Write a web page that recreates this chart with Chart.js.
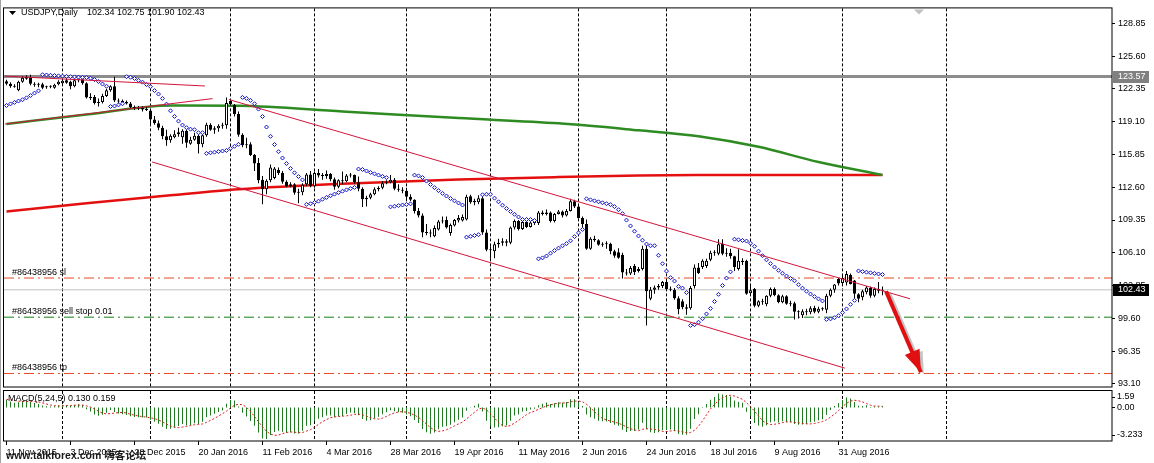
<!DOCTYPE html>
<html>
<head>
<meta charset="utf-8">
<script src="https://cdn.jsdelivr.net/npm/chart.js@4.4.0/dist/chart.umd.min.js"></script>
<style>
  html, body { margin: 0; padding: 0; background: #fff; }
  #wrap { position: relative; width: 1154px; height: 463px; overflow: hidden; }
  #wrap canvas { position: absolute; left: 0; top: 0; }
</style>
</head>
<body>
<div id="wrap">
  <canvas id="main" width="1154" height="463"></canvas>
  <canvas id="macd" width="1154" height="463"></canvas>
</div>
<script>
// USDJPY daily, 11 Nov 2015 .. 15 Sep 2016, candles + PSAR + MACD(5,24,5)

const FONT = '"Liberation Sans", Arial, sans-serif';

// time axis: bar index -> label every 16 bars, month grid lines
const dateLabels = ["11 Nov 2015", "3 Dec 2015", "28 Dec 2015", "20 Jan 2016", "11 Feb 2016",
                    "4 Mar 2016", "28 Mar 2016", "19 Apr 2016", "11 May 2016", "2 Jun 2016",
                    "24 Jun 2016", "18 Jul 2016", "9 Aug 2016", "31 Aug 2016"];
const labelIdx   = [0, 16, 32, 48, 64, 80, 96, 112, 128, 144, 160, 176, 192, 208];
const gridIdx    = [14, 36, 56, 77, 100, 121, 143, 165, 186, 209, 235];
const shiftIdx   = 228;

const opens = [
  123.10,122.85,122.60,122.20,123.05,123.35,123.50,122.85,122.75,122.80,
  122.50,122.55,122.45,122.80,122.90,123.20,123.05,122.60,123.20,123.30,
  122.90,121.45,121.55,120.95,121.05,121.65,122.20,122.60,121.20,121.10,
  121.05,120.90,120.55,120.40,120.45,120.30,120.20,119.30,118.95,118.50,
  117.65,117.25,117.55,117.85,117.55,118.20,116.90,117.30,117.70,116.85,
  117.75,118.80,118.30,118.45,118.70,118.75,121.15,120.75,119.85,117.80,
  116.75,116.85,115.80,115.00,113.35,112.40,113.30,113.50,114.30,114.00,
  113.15,112.70,112.90,112.05,112.10,112.90,113.85,112.70,114.00,113.75,
  113.70,113.90,113.40,112.65,113.30,113.20,113.75,113.80,113.10,112.45,
  111.40,111.55,111.90,112.40,112.55,113.00,113.10,113.35,112.45,112.35,
  112.25,111.65,111.35,110.25,109.80,108.10,108.05,107.75,108.40,109.20,
  109.35,108.05,108.80,109.30,109.30,109.40,111.70,111.10,111.10,111.50,
  108.10,106.40,106.25,106.95,107.10,107.25,107.10,108.60,109.25,108.45,
  109.15,108.65,109.10,109.05,110.10,109.95,110.10,109.25,109.95,110.20,
  109.80,110.25,111.20,110.70,109.55,108.95,106.50,107.50,107.35,106.90,
  107.00,107.00,106.25,106.15,105.90,104.15,104.05,104.80,104.30,104.50,
  106.50,101.55,102.45,102.65,102.80,103.20,102.50,102.45,101.60,101.30,
  100.70,100.60,102.80,104.65,104.70,104.80,105.40,106.10,106.00,107.00,
  106.00,106.10,105.75,104.50,105.30,105.30,102.10,102.50,100.85,101.30,
  101.00,101.85,102.50,101.90,101.20,101.80,101.05,101.10,100.25,99.90,
  100.30,100.20,100.65,100.25,100.55,100.45,101.85,102.45,103.50,103.10,
  103.15,103.90,103.35,102.00,101.70,102.20,102.60,101.85,102.50,102.34
];
const highs = [
  123.25,123.00,122.80,123.15,123.60,123.70,123.75,123.00,122.95,122.95,
  122.65,122.70,122.85,123.20,123.25,123.50,123.15,123.35,123.45,123.40,
  123.00,121.90,121.75,121.40,121.85,122.35,122.70,123.55,121.40,121.30,
  121.20,121.05,120.70,120.65,120.65,120.55,120.35,119.65,119.20,118.70,
  118.30,117.85,118.25,118.50,118.35,118.30,117.60,118.00,117.80,117.80,
  119.00,118.95,118.65,118.85,119.00,121.50,121.30,120.85,120.10,117.95,
  117.50,117.05,115.90,115.50,113.70,113.40,114.85,114.60,114.55,114.20,
  113.30,113.10,113.00,112.45,113.00,114.00,114.20,114.15,114.40,114.00,
  114.25,114.00,113.55,113.40,114.15,113.90,114.00,113.85,113.65,112.60,
  111.75,112.05,112.60,112.70,113.20,113.30,113.80,113.50,112.90,112.60,
  112.55,111.90,111.40,110.55,110.00,108.95,108.40,108.80,109.35,109.70,
  109.70,109.00,109.45,109.85,109.90,111.85,111.85,111.45,111.80,111.90,
  108.40,106.75,107.20,107.50,107.55,107.45,108.70,109.40,109.35,109.40,
  109.30,109.25,109.25,110.25,110.30,110.40,110.20,110.05,110.35,110.30,
  110.45,111.45,111.35,110.85,109.70,109.40,107.65,107.80,107.45,107.15,
  107.25,107.10,106.40,106.55,106.10,104.50,104.80,105.00,104.70,106.80,
  106.80,102.70,102.85,103.00,103.30,103.30,102.75,102.60,101.80,101.50,
  101.00,102.80,104.95,105.10,105.45,105.50,106.30,106.35,107.45,107.45,
  106.55,106.50,105.80,106.45,105.55,105.40,102.85,102.60,101.40,101.55,
  101.90,102.65,102.65,102.00,101.95,101.90,101.35,101.25,100.40,100.50,
  100.55,100.80,100.85,100.75,100.70,102.05,102.55,103.00,103.60,103.85,
  104.30,104.05,103.40,102.10,102.45,102.80,102.75,102.65,103.20,102.75
];
const lows = [
  122.70,122.45,122.45,122.10,122.95,123.25,122.70,122.55,122.50,122.30,
  122.35,122.40,122.35,122.70,122.80,122.85,122.30,122.50,123.00,122.75,
  121.40,121.25,120.80,120.60,120.90,121.55,122.05,121.05,120.90,120.95,
  120.80,120.45,120.25,120.25,120.10,120.15,118.70,118.80,118.25,117.35,
  116.70,117.00,117.45,117.60,116.90,116.50,116.80,117.20,115.95,116.55,
  117.60,118.20,117.90,118.10,118.40,118.40,120.70,119.60,117.60,116.55,
  116.45,115.70,114.20,113.00,110.90,111.90,113.10,113.40,113.80,112.95,
  112.60,112.60,111.85,111.00,111.80,112.70,112.60,112.55,113.55,113.35,
  113.45,113.20,112.35,112.50,112.90,113.10,113.55,112.95,112.20,110.65,
  110.70,111.40,111.80,112.20,112.40,112.90,113.00,112.30,112.15,112.00,
  111.35,111.20,110.00,109.60,107.65,107.85,107.65,107.65,108.30,109.00,
  108.50,107.80,108.70,109.10,109.20,109.30,110.95,110.80,110.90,107.90,
  106.25,105.50,105.55,106.60,106.80,106.75,106.95,108.40,108.30,108.35,
  108.55,108.60,108.85,108.85,109.80,109.80,109.10,109.10,109.90,109.60,
  109.70,110.20,110.55,109.50,108.50,106.40,106.40,107.20,106.80,106.70,
  106.50,105.95,105.60,105.50,103.55,103.85,103.90,103.90,104.15,104.35,
  98.90,101.40,102.05,102.45,102.60,102.35,102.30,101.45,100.00,100.50,
  99.95,100.45,102.55,104.00,104.50,104.60,105.25,105.80,105.85,105.85,
  105.70,105.50,104.30,104.35,104.90,101.95,101.90,100.70,100.70,100.95,
  100.80,101.70,101.80,101.10,101.10,100.95,100.80,99.50,99.60,99.65,
  99.90,100.00,100.10,100.10,100.35,100.10,101.70,102.15,102.85,103.00,
  102.85,102.95,101.45,101.20,101.40,102.00,101.65,101.70,102.10,101.90
];
const closes = [
  122.85,122.60,122.55,123.05,123.45,123.55,122.85,122.75,122.80,122.45,
  122.55,122.60,122.75,123.05,123.15,122.95,122.60,123.20,123.30,122.90,
  121.50,121.55,120.95,121.05,121.65,122.20,122.60,121.20,121.10,121.05,
  120.90,120.55,120.40,120.45,120.30,120.25,119.30,118.95,118.50,117.65,
  117.25,117.70,117.85,118.05,118.20,117.00,117.30,117.70,116.85,117.75,
  118.80,118.30,118.45,118.70,118.80,120.95,120.85,119.85,117.80,116.75,
  116.85,115.80,114.95,113.30,112.40,113.25,114.55,114.45,114.00,113.15,
  112.70,112.90,112.05,112.10,112.85,113.85,112.70,114.00,113.75,113.70,
  113.90,113.40,112.65,113.30,113.20,113.75,113.80,113.10,112.45,111.40,
  111.55,111.90,112.40,112.55,113.00,113.10,113.35,112.45,112.35,112.25,
  111.65,111.35,110.25,109.80,108.10,108.05,108.00,108.55,109.20,109.25,
  108.60,108.85,109.35,109.55,109.65,111.65,111.10,111.25,111.50,108.10,
  106.40,106.35,106.95,107.10,107.25,107.10,108.60,109.25,108.45,109.15,
  108.65,109.10,109.05,110.10,109.95,110.10,109.25,109.95,110.20,109.80,
  110.25,111.20,110.70,109.55,108.95,106.50,107.50,107.35,106.90,107.00,
  106.95,106.25,105.80,105.60,104.15,104.05,104.60,104.20,104.50,106.50,
  102.30,102.45,102.65,102.80,103.20,102.50,102.45,101.60,100.50,100.70,
  100.55,102.60,104.65,104.10,105.30,105.30,106.10,106.20,106.95,106.00,
  106.10,105.75,104.70,105.30,105.20,102.05,102.40,100.85,101.30,101.20,
  101.85,102.50,101.90,101.20,101.80,101.05,101.00,100.25,100.20,100.30,
  100.20,100.60,100.25,100.55,100.50,101.85,102.45,102.95,103.05,103.60,
  104.00,103.00,102.05,101.55,102.30,102.65,101.85,102.50,102.35,102.43
];

// long moving averages, sampled at bar indices
const maIdx   = [0, 20, 41, 58, 84, 113, 138, 158, 173, 188, 203, 219];
const maGreen = [118.86, 119.80, 120.70, 120.67, 120.10, 119.45, 118.93, 118.24, 117.65, 116.60, 115.10, 113.82];
const maRed   = [110.20, 111.00, 111.80, 112.40, 112.95, 113.36, 113.60, 113.75, 113.80, 113.82, 113.82, 113.82];

// hand-drawn objects: [barIndex, price] anchors
const trendTopLeft  = [[-0.4, 123.61], [49.6, 122.63]];
const trendRising   = [[-0.4, 118.86], [51.5, 121.38]];
const channelTop    = [[55.6, 121.29], [225.9, 101.54]];
const channelBottom = [[36.4, 115.10], [209.6, 94.67]];
const arrowPts      = [[219.9, 102.28], [228.6, 94.27]];

// horizontal levels
const levelMark = 123.57;
const levelBid  = 102.43;
const levelSl   = 103.60;
const levelStop = 99.72;
const levelTp   = 94.14;
const orderTag  = "#86438956";

const priceTicks = [93.10, 96.35, 99.60, 102.85, 106.10, 109.35, 112.60, 115.85, 119.10, 122.35, 125.60, 128.85];
const titleText  = "USDJPY,Daily";
const titleOHLC  = "102.34 102.75 101.90 102.43";
const macdText   = "MACD(5,24,5) 0.130 0.159";
const macdMin = -3.233, macdMax = 1.59;

// indicator state before the first visible bar
const sarSeed  = { up: true, sar: 120.70, ep: 123.30, af: 0.06 };
const macdSeed = { fast: 122.95, slow: 122.15 };

const xMin = -0.625, xMax = 276.375;

// ---- indicators computed from the candles ----
function parabolicSar(hi, lo, step, maxStep, seed) {
  const out = [];
  let { up, sar, ep, af } = seed;
  for (let i = 0; i < hi.length; i++) {
    if (i > 0) {
      sar = sar + af * (ep - sar);
      if (up) {
        sar = Math.min(sar, lo[i - 1], lo[Math.max(0, i - 2)]);
        if (lo[i] < sar) { up = false; sar = ep; ep = lo[i]; af = step; }
        else if (hi[i] > ep) { ep = hi[i]; af = Math.min(af + step, maxStep); }
      } else {
        sar = Math.max(sar, hi[i - 1], hi[Math.max(0, i - 2)]);
        if (hi[i] > sar) { up = true; sar = ep; ep = hi[i]; af = step; }
        else if (lo[i] < ep) { ep = lo[i]; af = Math.min(af + step, maxStep); }
      }
    }
    out.push(sar);
  }
  return out;
}

function macdSeries(cl, fast, slow, sig, seed) {
  const kf = 2 / (fast + 1), ks = 2 / (slow + 1);
  let ef = seed.fast, es = seed.slow;
  const main = cl.map(c => { ef += kf * (c - ef); es += ks * (c - es); return ef - es; });
  const pad = seed.fast - seed.slow;
  const signal = main.map((_, i) => {
    let s = 0;
    for (let k = i - sig + 1; k <= i; k++) s += k >= 0 ? main[k] : pad;
    return s / sig;
  });
  return { main, signal };
}

const sar  = parabolicSar(highs, lows, 0.02, 0.2, sarSeed);
const macd = macdSeries(closes, 5, 24, 5, macdSeed);

const pts = arr => arr.map(p => ({ x: p[0], y: p[1] }));
const hline = v => [{ x: xMin, y: v }, { x: xMax, y: v }];
const isUp = i => closes[i] >= opens[i];

function drawVGrid(chart) {
  const { ctx, chartArea: a, scales: { x } } = chart;
  ctx.save();
  ctx.strokeStyle = "#000";
  ctx.lineWidth = 1;
  ctx.setLineDash([3, 2]);
  gridIdx.forEach(i => {
    const px = Math.round(x.getPixelForValue(i) - 0.5) + 0.5;
    ctx.beginPath();
    ctx.moveTo(px, a.top);
    ctx.lineTo(px, a.bottom);
    ctx.stroke();
  });
  ctx.restore();
}

function drawFrame(ctx, a) {
  ctx.save();
  ctx.strokeStyle = "#000";
  ctx.lineWidth = 1;
  ctx.strokeRect(a.left - 0.5, a.top - 0.5, a.right - a.left + 0.5, a.bottom - a.top + 0.5);
  ctx.restore();
}

// arrow geometry in pixels, taken from the scales
function arrowPixels(chart) {
  const { x, y } = chart.scales;
  const x0 = x.getPixelForValue(arrowPts[0][0]), y0 = y.getPixelForValue(arrowPts[0][1]);
  const x1 = x.getPixelForValue(arrowPts[1][0]), y1 = y.getPixelForValue(arrowPts[1][1]);
  const len = Math.hypot(x1 - x0, y1 - y0);
  return { x0, y0, x1, y1, dx: (x1 - x0) / len, dy: (y1 - y0) / len };
}

function arrowHead(ctx, p, ox, oy, color) {
  const L = 22, W = 8;
  const tx = p.x1 + ox, ty = p.y1 + oy;
  ctx.fillStyle = color;
  ctx.beginPath();
  ctx.moveTo(tx, ty);
  ctx.lineTo(tx - p.dx * L - p.dy * W, ty - p.dy * L + p.dx * W);
  ctx.lineTo(tx - p.dx * L + p.dy * W, ty - p.dy * L - p.dx * W);
  ctx.closePath();
  ctx.fill();
}

const mainDecor = {
  id: "mainDecor",
  beforeDatasetsDraw(chart) {
    drawVGrid(chart);
    // soft shadow under the arrow
    const { ctx } = chart;
    const p = arrowPixels(chart);
    ctx.save();
    ctx.strokeStyle = "#c4c4c4";
    ctx.lineWidth = 4;
    ctx.beginPath();
    ctx.moveTo(p.x0 + 3, p.y0 + 2);
    ctx.lineTo(p.x1 + 3 - p.dx * 10, p.y1 + 2 - p.dy * 10);
    ctx.stroke();
    arrowHead(ctx, p, 3, 2, "#c4c4c4");
    ctx.restore();
  },
  afterDatasetsDraw(chart) {
    const { ctx } = chart;
    ctx.save();
    arrowHead(ctx, arrowPixels(chart), 0, 0, "#e01010");
    ctx.restore();
  },
  afterDraw(chart) {
    const { ctx, chartArea: a, scales: { x, y } } = chart;
    drawFrame(ctx, a);
    ctx.save();
    // window edge
    ctx.fillStyle = "#a0a0a0";
    ctx.fillRect(0, 0, 1, 463);
    // title
    ctx.fillStyle = "#000";
    ctx.font = "9px " + FONT;
    ctx.textBaseline = "middle";
    ctx.textAlign = "left";
    ctx.beginPath();
    ctx.moveTo(9, 11); ctx.lineTo(16, 11); ctx.lineTo(12.5, 15); ctx.closePath();
    ctx.fill();
    ctx.fillText(titleText, 21, 13);
    ctx.fillText(titleOHLC, 87, 13);
    // order labels above their lines
    ctx.textBaseline = "bottom";
    ctx.fillText(orderTag + " sl", 12, y.getPixelForValue(levelSl) - 1);
    ctx.fillText(orderTag + " sell stop 0.01", 12, y.getPixelForValue(levelStop) - 1);
    ctx.fillText(orderTag + " tp", 12, y.getPixelForValue(levelTp) - 1);
    // price boxes on the axis
    [[levelMark, "#808080"], [levelBid, "#000"]].forEach(([v, bg]) => {
      const py = Math.round(y.getPixelForValue(v));
      ctx.fillStyle = bg;
      ctx.fillRect(a.right + 1, py - 6, 36, 12);
      ctx.fillStyle = "#fff";
      ctx.textBaseline = "middle";
      ctx.fillText(v.toFixed(2), a.right + 6, py);
    });
    // chart shift marker
    const sx = Math.round(x.getPixelForValue(shiftIdx));
    ctx.fillStyle = "#c0c0c0";
    ctx.beginPath();
    ctx.moveTo(sx - 5, a.top + 1); ctx.lineTo(sx + 5, a.top + 1); ctx.lineTo(sx, a.top + 6); ctx.closePath();
    ctx.fill();
    ctx.restore();
  }
};

const macdDecor = {
  id: "macdDecor",
  beforeDatasetsDraw(chart) { drawVGrid(chart); },
  afterDraw(chart) {
    const { ctx, chartArea: a, scales: { y } } = chart;
    drawFrame(ctx, a);
    ctx.save();
    ctx.fillStyle = "#000";
    ctx.font = "9px " + FONT;
    ctx.textAlign = "left";
    ctx.textBaseline = "middle";
    ctx.fillText(macdText, 8, a.top + 8);
    // value labels: max at top, zero, min at bottom
    const tx = a.right + 5;
    const yTop = a.top + 6, yZero = y.getPixelForValue(0), yBot = a.bottom - 6;
    ctx.fillText(macdMax.toFixed(2), tx, yTop);
    ctx.fillText((0).toFixed(2), tx, yZero);
    ctx.fillText(macdMin.toFixed(3), tx, yBot);
    ctx.fillRect(a.right, Math.round(yTop), 3, 1);
    ctx.fillRect(a.right, Math.round(yZero), 3, 1);
    ctx.fillRect(a.right, Math.round(yBot), 3, 1);
    // watermark
    ctx.fillStyle = "#1a1a1a";
    ctx.font = 'bold 10.5px "Liberation Sans", "Noto Sans CJK SC", sans-serif';
    ctx.fillText("www.talkforex.com 嗨客论坛", 6, 456);
    ctx.restore();
  }
};

const lineDs = (data, color, width, order, dash) => ({
  type: "line", data, borderColor: color, borderWidth: width, pointRadius: 0,
  borderDash: dash || [], order, tension: 0, fill: false
});

new Chart(document.getElementById("main"), {
  type: "bar",
  data: {
    datasets: [
      lineDs(hline(levelMark), "#8c8c8c", 3, 20),
      lineDs(hline(levelBid), "#c0c0c0", 1, 20),
      lineDs(hline(levelSl), "#e84a24", 1, 20, [10, 4, 2, 4]),
      lineDs(hline(levelStop), "#108010", 1, 20, [10, 4, 2, 4]),
      lineDs(hline(levelTp), "#e84a24", 1, 20, [10, 4, 2, 4]),
      Object.assign(lineDs(maIdx.map((v, k) => ({ x: v, y: maGreen[k] })), "#2e8b22", 2.5, 15), { cubicInterpolationMode: "monotone" }),
      Object.assign(lineDs(maIdx.map((v, k) => ({ x: v, y: maRed[k] })), "#e41010", 2.5, 15), { cubicInterpolationMode: "monotone" }),
      {
        type: "bar", order: 10, grouped: false, barThickness: 1, inflateAmount: 0,
        data: highs.map((h, i) => ({ x: i, y: [lows[i], h] })),
        backgroundColor: "#000", borderWidth: 0
      },
      {
        type: "bar", order: 9, grouped: false, barThickness: 3, inflateAmount: 0, minBarLength: 1,
        data: opens.map((o, i) => ({ x: i, y: [o, closes[i]] })),
        backgroundColor: c => isUp(c.dataIndex) ? "#fff" : "#000",
        borderColor: "#000", borderWidth: 1, borderSkipped: false
      },
      {
        type: "scatter", order: 8,
        data: sar.map((v, i) => ({ x: i, y: v })),
        pointStyle: "rectRot", pointRadius: 2, pointHoverRadius: 2,
        pointBorderColor: "#1010d0", pointBackgroundColor: "#fff", pointBorderWidth: 1
      },
      lineDs(pts(trendTopLeft), "#d2143a", 1, 5),
      lineDs(pts(trendRising), "#d2143a", 1, 5),
      lineDs(pts(channelTop), "#d2143a", 1, 5),
      lineDs(pts(channelBottom), "#d2143a", 1, 5),
      lineDs(pts(arrowPts), "#e01010", 4, 1)
    ]
  },
  options: {
    responsive: false, animation: false, devicePixelRatio: 1,
    events: [],
    layout: { padding: { left: 4, top: 5, right: 0, bottom: 76 } },
    plugins: { legend: { display: false }, tooltip: { enabled: false } },
    scales: {
      x: { type: "linear", min: xMin, max: xMax, offset: false, grid: { offset: false }, display: false },
      y: {
        type: "linear", position: "right", min: 92.80, max: 130.32, bounds: "data",
        afterBuildTicks: s => { s.ticks = priceTicks.map(v => ({ value: v })); },
        afterFit: s => { s.width = 42; },
        ticks: { callback: v => v.toFixed(2), font: { family: FONT, size: 9 }, color: "#000", padding: 3, autoSkip: false },
        grid: { drawOnChartArea: false, tickLength: 3, color: "#000" },
        border: { display: false }
      }
    }
  },
  plugins: [mainDecor]
});

new Chart(document.getElementById("macd"), {
  type: "bar",
  data: {
    datasets: [
      {
        type: "bar", order: 2, grouped: false, barThickness: 1, inflateAmount: 0,
        data: macd.main.map((v, i) => ({ x: i, y: v })),
        backgroundColor: "#1f7a1f", borderWidth: 0
      },
      lineDs(macd.signal.map((v, i) => ({ x: i, y: v })), "#e01818", 1, 1, [2, 2])
    ]
  },
  options: {
    responsive: false, animation: false, devicePixelRatio: 1,
    events: [],
    layout: { padding: { left: 4, top: 391, right: 0, bottom: 0 } },
    plugins: { legend: { display: false }, tooltip: { enabled: false } },
    scales: {
      x: {
        type: "linear", min: xMin, max: xMax, bounds: "data", offset: false,
        afterBuildTicks: s => { s.ticks = labelIdx.map(v => ({ value: v })); },
        afterFit: s => { s.height = 22; },
        ticks: {
          callback: (v, i) => dateLabels[i], autoSkip: false, maxRotation: 0, minRotation: 0,
          align: "start", font: { family: FONT, size: 9 }, color: "#000", padding: 2
        },
        grid: { drawOnChartArea: false, tickLength: 4, color: "#000", offset: false },
        border: { display: false }
      },
      y: {
        type: "linear", position: "right", min: macdMin, max: macdMax, bounds: "data",
        afterFit: s => { s.width = 42; },
        ticks: { display: false },
        grid: { display: false },
        border: { display: false }
      }
    }
  },
  plugins: [macdDecor]
});
</script>
</body>
</html>
